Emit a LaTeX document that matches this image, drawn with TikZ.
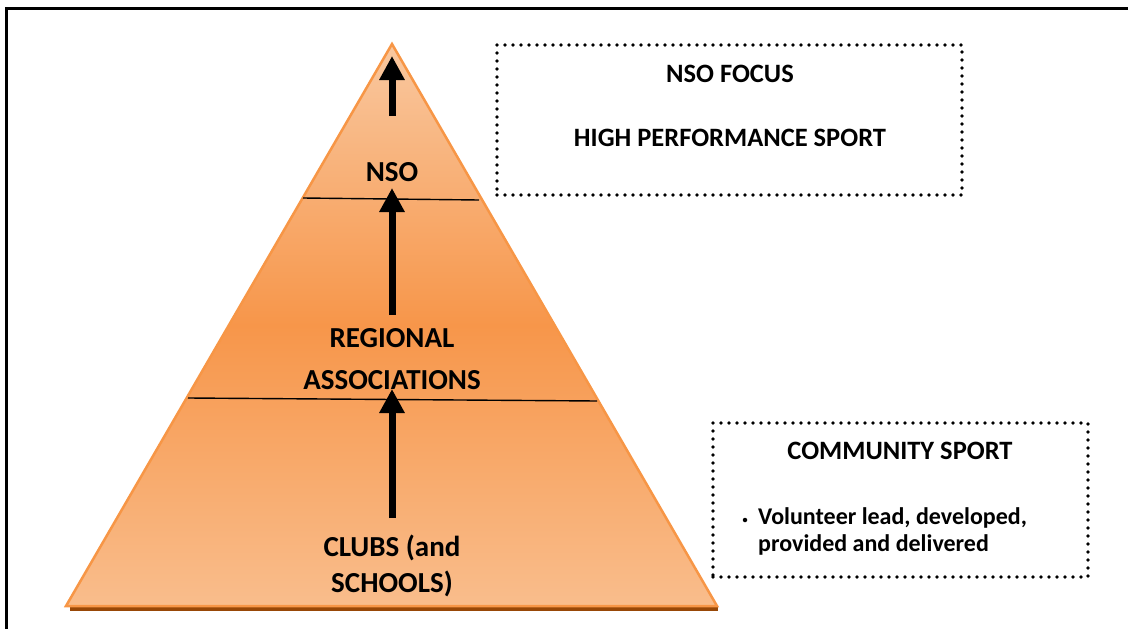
\documentclass[tikz,border=0pt]{standalone}
\usepackage{fontspec}
\setmainfont{Carlito}
\usetikzlibrary{arrows.meta,positioning}

\definecolor{pyrlight}{HTML}{F9C8A0}
\definecolor{pyrmid}{HTML}{F7964A}
\definecolor{pyrlow}{HTML}{F9BD8C}
\definecolor{pyredge}{HTML}{F79646}
\definecolor{pyrshadow}{HTML}{984807}

\tikzset{
  lbl/.style={font=\bfseries\fontsize{29}{42}\selectfont, align=center},
  boxtxt/.style={font=\bfseries\fontsize{26.5}{30}\selectfont},
  listtxt/.style={font=\bfseries\fontsize{24}{28}\selectfont},
  dotbox/.style={draw, line width=3.6pt, dash pattern=on 0pt off 8pt, line cap=round},
  uparrow/.style={line width=7pt, -{Triangle[width=24pt,length=24pt]}}
}

\begin{document}
\begin{tikzpicture}[x=1pt,y=-1pt]
  \useasboundingbox (0,0) rectangle (1128,629);

  % page frame (top and left only)
  \draw[line width=3pt] (1128,8) -- (6,8) -- (6,629);

  % pyramid corners
  \coordinate (apex) at (392,44);
  \coordinate (baseL) at (66,606);
  \coordinate (baseR) at (717,606);

  % shadow under the base
  \fill[pyrshadow] (70,606) rectangle (718,611);
  % Pyramid body
  \shade[top color=pyrlight, bottom color=pyrlow, middle color=pyrmid]
    (apex) -- (baseL) -- (baseR) -- cycle;
  \draw[pyredge, line width=2.5pt, line join=miter] (apex) -- (baseL) -- (baseR) -- cycle;

  % level separators
  \draw[line width=1.4pt]
    (303,198) to (479,200)
    (188,398) to (597,401);

  % Level labels
  \node[lbl] (nso) at (392,172) {NSO};
  \node[lbl] (regional) at (392,359) {REGIONAL\\ASSOCIATIONS};
  \node[lbl] (clubs) at (392,566) {CLUBS (and\\[-6pt]SCHOOLS)};

  % arrow ends
  \coordinate (a1s) at (392,518);
  \coordinate (a1e) at (392,389);
  \coordinate (a2s) at (392,315);
  \coordinate (a2e) at (392,188);
  \coordinate (a3s) at (392,116);
  \coordinate (a3e) at (392,56);
  \draw[uparrow] (a1s) -- (a1e);
  \draw[uparrow] (a2s) -- (a2e);
  \draw[uparrow] (a3s) -- (a3e);

  % NSO focus box
  \node[dotbox, minimum width=465pt, minimum height=150pt, inner sep=0pt] (focus) at (729.5,120) {};
  \node[boxtxt] (focustitle) at (730,74) {NSO FOCUS};
  \node[boxtxt] (hps) at (730,138) {HIGH PERFORMANCE SPORT};

  % Community box
  \node[dotbox, minimum width=375pt, minimum height=154pt, inner sep=0pt] (community) at (900.5,500) {};
  \node[boxtxt] (commtitle) at (900,451) {COMMUNITY SPORT};
  \node[listtxt, anchor=west, inner sep=0pt] (vol1) at (758,518) {Volunteer lead, developed,};
  \node[listtxt, anchor=west, inner sep=0pt] (vol2) at (758,545) {provided and delivered};
  \node[fill, circle, inner sep=0pt, minimum size=4.5pt] (bullet) at (745,520) {};
\end{tikzpicture}
\end{document}
